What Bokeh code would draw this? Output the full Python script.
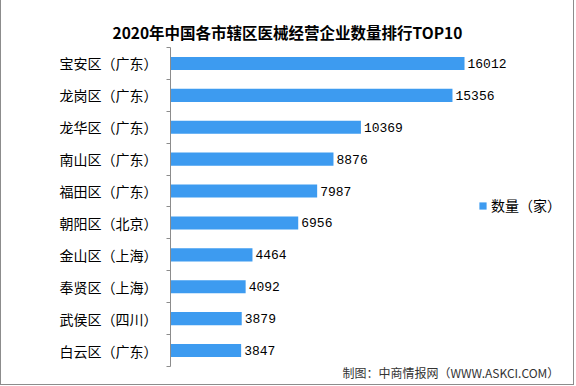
from bokeh.plotting import figure
from bokeh.models import Range1d, FixedTicker, Label, Legend, LegendItem, ColumnDataSource
from bokeh.core.properties import value
from bokeh.embed import file_html
from bokeh.resources import INLINE

title_text = "2020年中国各市辖区医械经营企业数量排行TOP10"
categories = ["宝安区（广东）", "龙岗区（广东）", "龙华区（广东）", "南山区（广东）", "福田区（广东）",
              "朝阳区（北京）", "金山区（上海）", "奉贤区（上海）", "武侯区（四川）", "白云区（广东）"]
counts = [16012, 15356, 10369, 8876, 7987, 6956, 4464, 4092, 3879, 3847]
series_name = "数量（家）"
source_note = "制图：中商情报网（WWW.ASKCI.COM）"

CJK = "Noto Sans CJK SC"
n = len(categories)
pos = [i + 0.5 for i in range(n)]

src = ColumnDataSource(dict(y=pos, v=counts, lab=[str(c) for c in counts]))

p = figure(width=574, height=385, output_backend="svg", toolbar_location=None,
           x_range=Range1d(0, 22056), y_range=Range1d(n + 0.596, 0),
           min_border_left=169, min_border_right=0, min_border_top=47, min_border_bottom=0)
p.styles = {"border-left": "1px solid #8c8c8c", "border-right": "1px solid #8c8c8c",
            "border-bottom": "1px solid #8c8c8c"}
p.background_fill_color = "white"
p.border_fill_color = "white"
p.outline_line_color = None
p.grid.visible = False
p.xaxis.visible = False

p.title.text = title_text
p.title.align = "left"
p.title.offset = -58
p.title.text_font = CJK
p.title.text_font_style = "bold"
p.title.text_font_size = "15.5px"
p.title.text_color = "#000000"
p.title.standoff = 10

ax = p.yaxis[0]
ax.bounds = (0, n)
ax.ticker = FixedTicker(ticks=pos, minor_ticks=list(range(n + 1)))
ax.major_label_overrides = {pv: c for pv, c in zip(pos, categories)}
ax.major_tick_in = 0
ax.major_tick_out = 0
ax.minor_tick_in = 0
ax.minor_tick_out = 4
ax.minor_tick_line_color = "#8c8c8c"
ax.axis_line_color = "#8c8c8c"
ax.major_label_text_font = CJK
ax.major_label_text_font_size = "14px"
ax.major_label_text_color = "#000000"
ax.major_label_standoff = 9

r = p.hbar(y="y", right="v", left=0, height=0.41, source=src,
           fill_color="#3D9BF0", line_color=None)
p.text(x="v", y="y", text="lab", source=src, x_offset=3,
       text_baseline="middle", text_align="left",
       text_font=value("Liberation Mono"), text_font_size="13px", text_color="#000000")

legend = Legend(items=[LegendItem(label=series_name, renderers=[r])],
                location=(308, 170), padding=0, margin=0, spacing=0,
                glyph_width=9, glyph_height=9, label_height=14, label_standoff=4,
                label_text_font=CJK, label_text_font_size="14px", label_text_color="#000000",
                border_line_color=None, background_fill_alpha=0)
p.add_layout(legend)

p.add_layout(Label(x=172, y=13, x_units="screen", y_units="screen", text=source_note,
                   text_align="left", text_baseline="middle", text_font=CJK,
                   text_font_size="12px", text_color="#333333"))

open("out.html", "w").write(file_html(p, INLINE))
